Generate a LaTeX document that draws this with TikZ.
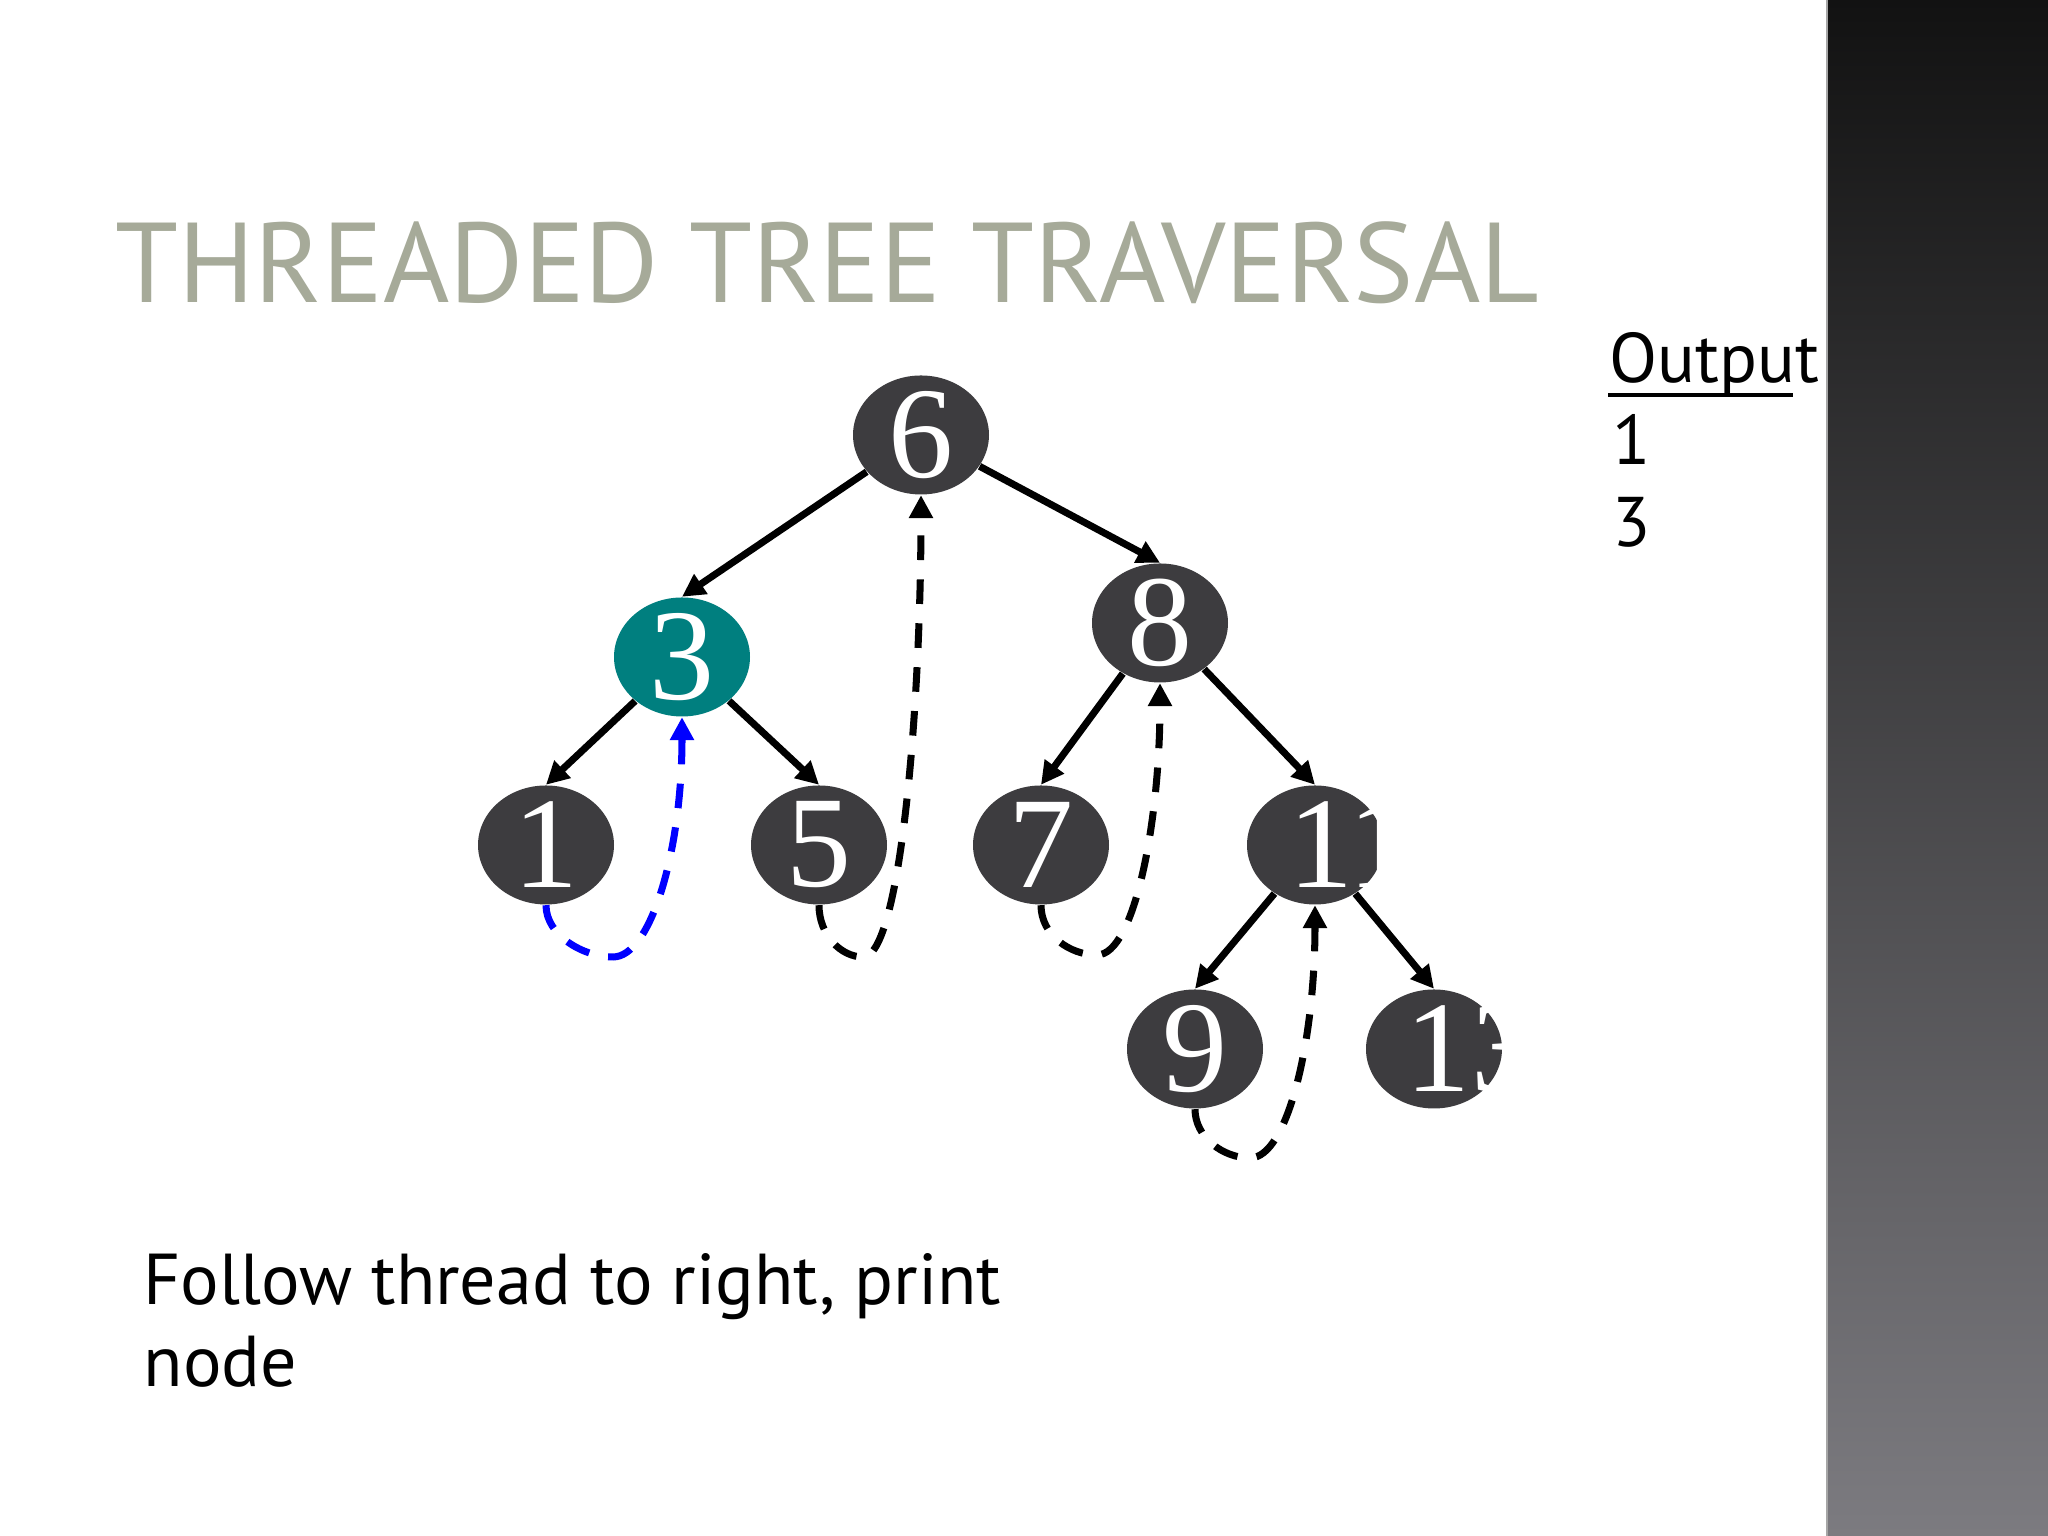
\documentclass[tikz,border=0pt]{standalone}
\usepackage{fontspec}
\setmainfont{Liberation Serif}
\newfontfamily\slidefont{PT Sans}
\usetikzlibrary{shapes.geometric, arrows.meta}

\definecolor{nodegrey}{HTML}{3D3C3F}
\definecolor{curteal}{HTML}{007F7F}
\definecolor{titlegrey}{HTML}{A6AA99}
\definecolor{barTop}{HTML}{121212}
\definecolor{barMid}{HTML}{5A595D}
\definecolor{barBot}{HTML}{7C7B80}

\tikzset{
  treenode/.style={ellipse, fill=nodegrey, minimum width=1.36cm, minimum height=1.19cm, inner sep=0pt},
  digit/.style={text=white, font=\fontsize{37}{37}\selectfont, inner sep=0pt},
  edge/.style={line width=2pt, -{Triangle[length=6.5pt,width=6.5pt]}},
  thread/.style={line width=2pt, dash pattern=on 7pt off 5.5pt, -{Triangle[length=6.5pt,width=6.5pt]}},
  slidetext/.style={font=\slidefont\fontsize{20.5}{20.5}\selectfont, anchor=base west, inner sep=0pt}
}

\begin{document}
\begin{tikzpicture}

  % Background and the dark bar on the right
  \fill[white] (0,0) rectangle (20.48,15.36);
  \useasboundingbox (0,0) rectangle (20.48,15.36);
  \shade[top color=barTop, middle color=barMid, bottom color=barBot] (18.27,0) rectangle (20.48,15.36);
  \draw[gray!70, line width=0.6pt] (18.27,0) -- (18.27,15.36);

  % Title
  \node[slidetext, font=\slidefont\fontsize{32.3}{32.3}\selectfont, text=titlegrey] (title) at (1.15,12.33) {THREADED TREE TRAVERSAL};

  % Output column
  \node[slidetext, font=\slidefont\fontsize{20}{20}\selectfont] (output) at (16.09,11.53) {Output};
  \draw[line width=0.9pt] (16.08,11.41) -- (17.93,11.41);
  \node[slidetext, font=\slidefont\fontsize{20}{20}\selectfont] (out1) at (16.12,10.71) {1};
  \node[slidetext, font=\slidefont\fontsize{20}{20}\selectfont] (out3) at (16.12,9.89) {3};

  % The tree
  \node[treenode, label={[digit]center:6}] (n6) at (9.21,11.01) {};
  \node[treenode, fill=curteal, label={[digit]center:3}] (n3) at (6.82,8.79) {};
  \node[treenode, label={[digit]center:8}] (n8) at (11.60,9.13) {};
  \node[treenode, label={[digit]center:1}] (n1) at (5.46,6.91) {};
  \node[treenode, label={[digit]center:5}] (n5) at (8.19,6.91) {};
  \node[treenode, label={[digit]center:7}] (n7) at (10.41,6.91) {};
  \node[treenode, label={[digit, xshift=0.36cm]center:11}] (n11) at (13.15,6.91) {};
  \node[treenode, label={[digit]center:9}] (n9) at (11.95,4.87) {};
  \node[treenode, label={[digit, xshift=0.37cm]center:13}] (n13) at (14.34,4.87) {};

  % Child links
  \draw[edge] (n6) -- (n3.north);
  \draw[edge] (n6) -- (n8.north);
  \draw[edge] (n3) -- (n1.north);
  \draw[edge] (n3) -- (n5.north);
  \draw[edge] (n8) -- (n7.north);
  \draw[edge] (n8) -- (n11.north);
  \draw[edge] (n11) -- (n9.north);
  \draw[edge] (n11) -- (n13.north);

  % Lowest points of the threads
  \coordinate (b1) at (6.13,5.79);
  \coordinate (b5) at (8.63,5.79);
  \coordinate (b7) at (10.97,5.81);
  \coordinate (b9) at (12.50,3.78);

  % Threads back up to the successor
  \draw[thread, blue] (n1.south) .. controls +(0,-0.30) and +(-0.30,0) .. (b1)
    .. controls +(0.38,0) and +(0,-1.33) .. (n3.south);
  \draw[thread] (n5.south) .. controls +(0,-0.30) and +(-0.22,0) .. (b5)
    .. controls +(0.38,0) and +(0,-2.05) .. (n6.south);
  \draw[thread] (n7.south) .. controls +(0,-0.30) and +(-0.27,0) .. (b7)
    .. controls +(0.38,0) and +(0,-1.36) .. (n8.south);
  \draw[thread] (n9.south) .. controls +(0,-0.28) and +(-0.27,0) .. (b9)
    .. controls +(0.38,0) and +(0,-1.34) .. (n11.south);

  % Caption
  \node[slidetext] (caption) at (1.43,2.31) {Follow thread to right, print};
  \node[slidetext] (caption2) at (1.43,1.49) {node};

\end{tikzpicture}
\end{document}
